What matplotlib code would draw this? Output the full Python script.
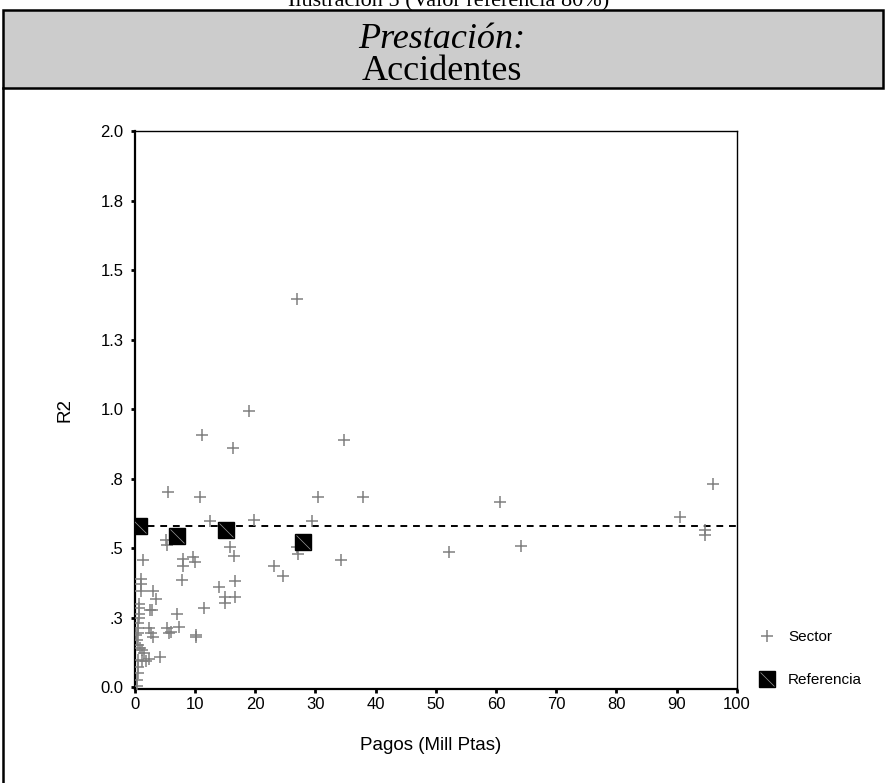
import matplotlib
matplotlib.use("Agg")
import matplotlib.pyplot as plt
from matplotlib.patches import Rectangle
from matplotlib.lines import Line2D
from matplotlib.path import Path

# Sector points (Pagos in Mill Ptas, R2)
sector_x = [27.0, 19.0, 11.1, 34.8, 16.3, 5.5, 10.8, 30.5, 37.9, 60.6,
            96.0, 90.5, 94.7, 94.8, 12.5, 19.9, 29.4, 52.2, 64.2, 5.2,
            5.3, 1.4, 15.9, 16.5, 8.0, 8.0, 9.7, 10.0, 7.8, 14.0,
            15.0, 15.0, 16.7, 16.7, 23.1, 24.6, 26.9, 27.1, 34.2, 11.5,
            7.1, 7.4, 5.3, 5.7, 6.1, 10.2, 10.2, 3.0, 3.6, 2.6,
            2.9, 2.4, 2.7, 3.1, 4.2, 1.0, 1.0, 1.0, 0.7, 0.7,
            0.7, 0.7, 0.6, 0.6, 0.6, 0.2, 0.4, 0.5, 0.9, 1.2,
            1.5, 0.6, 1.2, 1.8, 2.3, 0.6, 0.5, 0.3, 0.3]
sector_y = [1.395, 0.993, 0.905, 0.888, 0.860, 0.700, 0.684, 0.684, 0.684, 0.667,
            0.731, 0.611, 0.565, 0.548, 0.596, 0.602, 0.596, 0.484, 0.507, 0.528,
            0.512, 0.458, 0.503, 0.473, 0.462, 0.434, 0.466, 0.448, 0.386, 0.361,
            0.323, 0.304, 0.380, 0.323, 0.436, 0.400, 0.505, 0.479, 0.457, 0.284,
            0.264, 0.216, 0.212, 0.196, 0.199, 0.186, 0.181, 0.346, 0.316, 0.277,
            0.277, 0.211, 0.196, 0.181, 0.108, 0.390, 0.370, 0.345, 0.300, 0.284,
            0.264, 0.248, 0.230, 0.211, 0.193, 0.187, 0.169, 0.151, 0.142, 0.133,
            0.124, 0.097, 0.095, 0.095, 0.100, 0.073, 0.049, 0.025, 0.002]

# Reference points
ref_x = [0.7, 7.0, 15.2, 28.0]
ref_y = [0.578, 0.544, 0.566, 0.523]
ref_level = 0.578

y_ticks = [0, 0.25, 0.5, 0.75, 1.0, 1.25, 1.5, 1.75, 2.0]
y_labels = ["0.0", ".3", ".5", ".8", "1.0", "1.3", "1.5", "1.8", "2.0"]
x_ticks = list(range(0, 101, 10))

W, H = 885, 783
fig = plt.figure(figsize=(W / 100, H / 100), dpi=100)
sans = "Liberation Sans"
serif = "Liberation Serif"

# header: cut caption, gray band, frame lines
fig.text(449 / W, 1 - 6 / H, "Ilustración 5 (Valor referencia 80%)",
         ha="center", va="baseline", fontsize=16, family=serif)
fig.patches.append(Rectangle((3 / W, 1 - 88 / H), 880 / W, 78 / H,
                             transform=fig.transFigure, facecolor="#cccccc",
                             edgecolor="black", linewidth=1.8))
fig.lines.append(Line2D([3 / W, 3 / W], [0, 1 - 88 / H],
                        transform=fig.transFigure, color="black", linewidth=1.8))
fig.text(442 / W, 1 - 48 / H, "Prestación:", ha="center", va="baseline",
         fontsize=26, family=serif, style="italic")
fig.text(442 / W, 1 - 80 / H, "Accidentes", ha="center", va="baseline",
         fontsize=26, family=serif)

ax = fig.add_axes([134.7 / W, 1 - 689 / H, 602 / W, 558 / H])

ax.plot(sector_x, sector_y, linestyle="none", marker="+", markersize=8,
        markeredgewidth=1.1, color="#808080", zorder=3)
ax.plot([0, 100], [ref_level, ref_level], color="black", linewidth=1.4,
        dashes=(3.5, 3), zorder=2)
ax.plot(ref_x, ref_y, linestyle="none", marker="s", markersize=11,
        color="black", zorder=4)
diag = Path([(-1, 1), (1, -1)], [Path.MOVETO, Path.LINETO])
ax.plot(ref_x, ref_y, linestyle="none", marker=diag, markersize=10,
        markeredgewidth=0.5, markeredgecolor="#9a9a9a", zorder=5)

ax.set_xlim(0, 100)
ax.set_ylim(-0.007, 2.0)
ax.set_xticks(x_ticks)
ax.set_yticks(y_ticks)
ax.set_yticklabels(y_labels)
ax.tick_params(direction="out", length=3, width=2, labelsize=12)
ax.tick_params(axis="x", pad=3)
ax.tick_params(axis="y", pad=5)
for lab in ax.get_xticklabels() + ax.get_yticklabels():
    lab.set_family(sans)
for side in ["left", "bottom"]:
    ax.spines[side].set_linewidth(1.6)
for side in ["top", "right"]:
    ax.spines[side].set_linewidth(1.0)

fig.text(431 / W, 1 - 745 / H, "Pagos (Mill Ptas)", ha="center", va="center",
         fontsize=13.5, family=sans)
fig.text(65 / W, 1 - 410 / H, "R2", ha="center", va="center", rotation=90,
         fontsize=13.5, family=sans)

sq = Line2D([], [], linestyle="none", marker="s", markersize=11, color="black")
dg = Line2D([], [], linestyle="none", marker=diag, markersize=10,
            markeredgewidth=0.5, markeredgecolor="#9a9a9a")
plus = Line2D([], [], linestyle="none", marker="+", markersize=8,
              markeredgewidth=1.1, color="#808080")
fig.legend([plus, (sq, dg)], ["Sector", "Referencia"], loc="center left",
           bbox_to_anchor=(759 / W, 1 - 658.5 / H), frameon=False,
           prop={"family": sans, "size": 11}, handlelength=1.0,
           handletextpad=0.9, labelspacing=1.9, borderpad=0, borderaxespad=0)

fig.savefig("out.png", dpi=100)
